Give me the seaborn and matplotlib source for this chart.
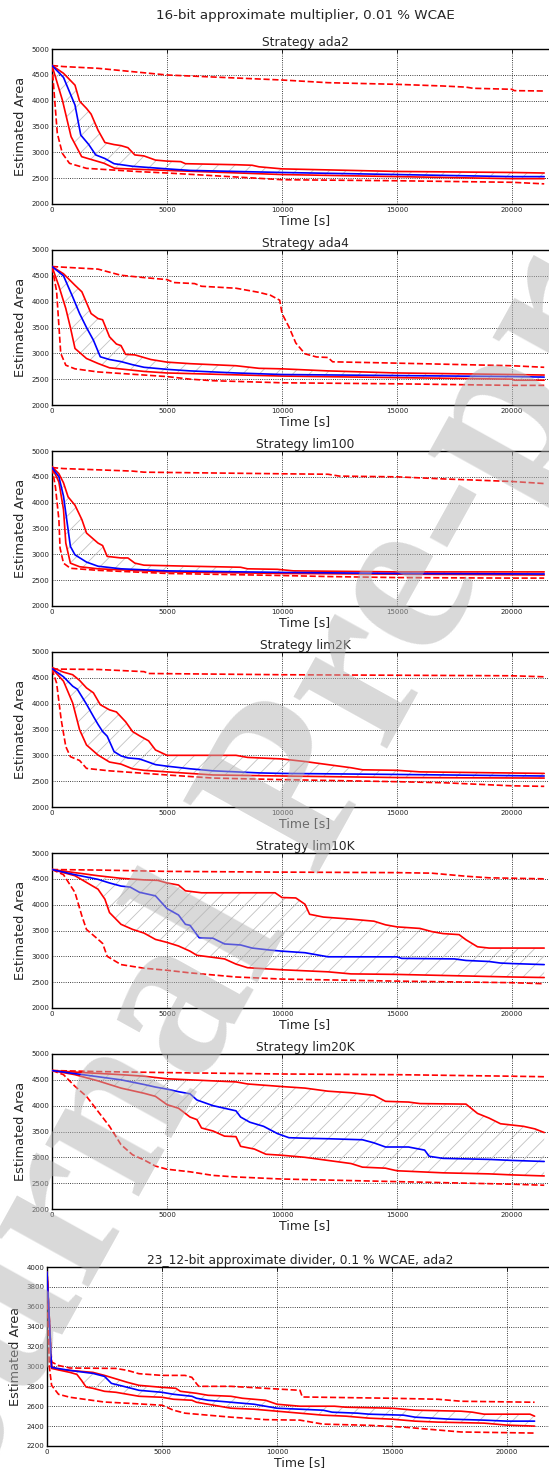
import numpy as np
import pandas as pd
import matplotlib
matplotlib.use("Agg")
import matplotlib.pyplot as plt
import seaborn as sns

# ---------------- data (time [s], estimated area) ----------------
# Strategy ada2
ada2_max = [(0, 4680), (500, 4660), (2000, 4626), (5000, 4497), (10000, 4400), (12000, 4348),
            (15000, 4316), (17000, 4284), (18000, 4262), (18300, 4240), (20000, 4220), (20100, 4194), (21400, 4187)]
ada2_q3 = [(0, 4680), (500, 4530), (1000, 4300), (1200, 3990), (1500, 3850), (1700, 3740), (2000, 3430),
           (2300, 3190), (2700, 3150), (3000, 3130), (3300, 3090), (3600, 2950), (4000, 2930), (4500, 2850),
           (5000, 2830), (5600, 2820), (5800, 2780), (8000, 2760), (8700, 2750), (9000, 2720), (10000, 2680),
           (12000, 2660), (15000, 2630), (20000, 2610), (21400, 2600)]
ada2_med = [(0, 4680), (500, 4450), (1000, 3915), (1250, 3335), (1600, 3150), (1900, 2950), (2300, 2880),
            (2700, 2780), (3500, 2730), (5000, 2680), (6000, 2650), (10000, 2610), (15000, 2570),
            (20000, 2530), (21400, 2530)]
ada2_q1 = [(0, 4680), (450, 4013), (830, 3303), (1290, 2916), (2270, 2787), (2730, 2690), (5000, 2650),
           (10000, 2570), (15000, 2530), (20000, 2490), (21400, 2490)]
ada2_min = [(0, 4680), (230, 3370), (450, 2980), (760, 2787), (1500, 2690), (3800, 2626), (5000, 2600),
            (9000, 2497), (10000, 2470), (15000, 2450), (20000, 2420), (21400, 2390)]

# Strategy ada4
ada4_max = [(0, 4680), (2000, 4630), (3000, 4511), (4000, 4466), (5000, 4427), (5300, 4370), (6200, 4350),
            (6500, 4298), (8000, 4260), (9000, 4180), (9500, 4124), (9900, 4028), (10000, 3770), (10300, 3513),
            (10600, 3200), (11000, 2990), (11500, 2930), (12000, 2920), (12200, 2836), (15000, 2810),
            (20000, 2760), (21400, 2730)]
ada4_q3 = [(0, 4680), (500, 4540), (1000, 4317), (1300, 4190), (1700, 3770), (2000, 3673), (2200, 3650),
           (2500, 3320), (2800, 3180), (3000, 3150), (3200, 2980), (3600, 2970), (4300, 2880), (5000, 2830),
           (6000, 2800), (8000, 2760), (9000, 2710), (10000, 2700), (12000, 2660), (15000, 2620),
           (20000, 2590), (21400, 2580)]
ada4_med = [(0, 4680), (500, 4500), (900, 4092), (1200, 3770), (1500, 3500), (1800, 3255), (2100, 2933),
            (2500, 2880), (3000, 2840), (3500, 2780), (4000, 2730), (5000, 2690), (6000, 2660), (8000, 2620),
            (10000, 2590), (15000, 2570), (20000, 2550), (21400, 2540)]
ada4_q1 = [(0, 4680), (300, 4300), (600, 3867), (800, 3500), (1000, 3094), (1500, 2900), (2000, 2804),
           (2500, 2720), (4000, 2650), (5000, 2620), (10000, 2560), (15000, 2530), (20000, 2500),
           (20100, 2480), (21400, 2480)]
ada4_min = [(0, 4680), (200, 4200), (380, 3000), (600, 2770), (1000, 2700), (2000, 2640), (5000, 2550),
            (6000, 2500), (7000, 2470), (10000, 2430), (15000, 2410), (20000, 2380), (21400, 2380)]

# Strategy lim100
lim100_max = [(0, 4680), (500, 4660), (3500, 4611), (4000, 4590), (10000, 4559), (12000, 4550), (12500, 4514),
              (15000, 4500), (17000, 4460), (20000, 4410), (21400, 4370)]
lim100_q3 = [(0, 4700), (300, 4560), (500, 4384), (700, 4112), (1000, 3950), (1300, 3671), (1500, 3412),
             (2000, 3218), (2200, 3170), (2400, 2960), (3000, 2930), (3300, 2930), (3600, 2830), (4000, 2790),
             (6000, 2770), (8200, 2750), (8500, 2720), (9800, 2710), (10500, 2680), (15000, 2660), (21400, 2660)]
lim100_med = [(0, 4680), (300, 4500), (500, 4125), (700, 3477), (800, 3153), (1000, 2990), (1500, 2850),
              (2000, 2770), (3000, 2720), (5000, 2680), (10000, 2650), (15000, 2630), (21400, 2620)]
lim100_q1 = [(0, 4680), (300, 4400), (500, 3866), (600, 3218), (800, 2829), (1200, 2760), (2000, 2720),
             (5000, 2660), (10000, 2630), (21400, 2600)]
lim100_min = [(0, 4680), (150, 4300), (300, 3670), (350, 3121), (500, 2829), (800, 2730), (2000, 2690),
              (5000, 2630), (10000, 2590), (12000, 2570), (15000, 2550), (20000, 2540), (21400, 2540)]

# Strategy lim2K
lim2k_max = [(0, 4670), (2000, 4662), (4000, 4620), (4200, 4584), (10000, 4560), (15000, 4550),
             (20000, 4540), (21400, 4520)]
lim2k_q3 = [(0, 4700), (500, 4610), (900, 4560), (1200, 4450), (1500, 4305), (1800, 4210), (2100, 3980),
            (2500, 3880), (2800, 3840), (3200, 3650), (3500, 3461), (3800, 3380), (4200, 3280), (4500, 3104),
            (5000, 3000), (8000, 3000), (8500, 2960), (10000, 2930), (11000, 2880), (12000, 2820),
            (13000, 2760), (13500, 2720), (15000, 2710), (16000, 2680), (21400, 2650)]
lim2k_med = [(0, 4680), (500, 4520), (900, 4338), (1100, 4280), (1500, 3990), (1800, 3753), (2000, 3600),
             (2200, 3461), (2400, 3370), (2700, 3071), (3000, 2990), (3300, 2950), (3800, 2930), (4000, 2900),
             (4500, 2820), (5000, 2790), (6000, 2740), (7000, 2700), (9000, 2660), (10000, 2650),
             (15000, 2630), (21400, 2600)]
lim2k_q1 = [(0, 4680), (500, 4435), (900, 4013), (1200, 3494), (1500, 3200), (2000, 3006), (2500, 2870),
            (3000, 2830), (3500, 2740), (4000, 2710), (5000, 2680), (7000, 2620), (10000, 2600),
            (15000, 2570), (21400, 2560)]
lim2k_min = [(0, 4670), (200, 4400), (400, 3688), (600, 3169), (800, 2974), (1200, 2900), (1500, 2747),
             (2500, 2700), (5000, 2620), (7000, 2560), (10000, 2530), (15000, 2490), (17000, 2470),
             (20000, 2410), (21400, 2400)]

# Strategy lim10K
lim10k_max = [(0, 4680), (2000, 4670), (5000, 4644), (10000, 4630), (15000, 4620), (16500, 4610),
              (18000, 4550), (19000, 4520), (21400, 4500)]
lim10k_q3 = [(0, 4680), (1000, 4620), (2000, 4560), (3000, 4510), (4000, 4480), (4600, 4470), (5000, 4420),
             (5500, 4380), (5800, 4268), (6500, 4230), (9700, 4230), (10000, 4138), (10600, 4130),
             (11000, 4008), (11200, 3814), (11800, 3760), (13000, 3720), (14000, 3680), (14500, 3610),
             (15000, 3570), (16000, 3540), (16500, 3480), (17000, 3440), (17700, 3420), (18000, 3320),
             (18500, 3185), (19000, 3160), (21400, 3160)]
lim10k_med = [(0, 4680), (1000, 4580), (2000, 4490), (2500, 4420), (3000, 4360), (3400, 4340), (3800, 4240),
              (4500, 4170), (5000, 3924), (5500, 3800), (5800, 3620), (6000, 3600), (6400, 3360),
              (7000, 3350), (7500, 3240), (8200, 3220), (8700, 3160), (9500, 3120), (10000, 3100),
              (11000, 3070), (12000, 2991), (15000, 2990), (15200, 2960), (17500, 2950), (18000, 2920),
              (19000, 2900), (19500, 2870), (20000, 2860), (21400, 2840)]
lim10k_q1 = [(0, 4680), (1000, 4560), (1500, 4430), (2000, 4300), (2300, 4106), (2500, 3847), (3000, 3620),
             (3500, 3522), (4000, 3450), (4500, 3327), (5000, 3270), (5500, 3200), (6000, 3100),
             (6300, 3020), (7000, 2980), (7500, 2950), (8000, 2850), (8500, 2780), (10000, 2740),
             (12000, 2700), (13000, 2660), (15000, 2650), (17000, 2630), (20000, 2600), (21400, 2590)]
lim10k_min = [(0, 4680), (500, 4580), (1000, 4235), (1300, 3780), (1500, 3520), (2000, 3330), (2200, 3250),
              (2400, 3000), (3000, 2840), (4000, 2770), (5000, 2730), (6000, 2680), (8000, 2600),
              (10000, 2560), (15000, 2520), (20000, 2490), (21400, 2470)]

# Strategy lim20K
lim20k_max = [(0, 4680), (2000, 4660), (5000, 4640), (10000, 4613), (15000, 4600), (20000, 4570),
              (21400, 4560)]
lim20k_q3 = [(0, 4680), (1000, 4650), (3000, 4600), (4000, 4570), (5000, 4520), (6000, 4500), (8000, 4460),
             (8500, 4420), (10000, 4370), (11000, 4340), (12000, 4280), (13000, 4250), (14000, 4200),
             (14500, 4084), (15500, 4070), (16000, 4040), (18000, 4030), (18500, 3850), (19000, 3760),
             (19500, 3650), (20500, 3600), (21000, 3550), (21400, 3480)]
lim20k_med = [(0, 4680), (1000, 4620), (2000, 4560), (3000, 4500), (4000, 4410), (4500, 4360), (5000, 4320),
              (5500, 4270), (6000, 4230), (6300, 4110), (7000, 4000), (7500, 3950), (8000, 3900),
              (8200, 3780), (8600, 3680), (9200, 3600), (9800, 3460), (10300, 3380), (11000, 3370),
              (12000, 3360), (13500, 3340), (14000, 3280), (14500, 3200), (15500, 3200), (16200, 3140),
              (16400, 3020), (17000, 2980), (19000, 2960), (20000, 2940), (21400, 2920)]
lim20k_q1 = [(0, 4680), (1000, 4600), (2000, 4480), (3000, 4340), (4000, 4240), (4500, 4180), (5000, 4020),
             (5500, 3950), (6000, 3780), (6300, 3730), (6500, 3568), (7000, 3510), (7500, 3410),
             (8000, 3400), (8200, 3213), (8800, 3160), (9300, 3060), (10000, 3040), (11000, 3000),
             (12000, 2940), (13000, 2880), (13500, 2810), (14500, 2790), (15000, 2740), (17000, 2700),
             (19000, 2680), (20000, 2660), (21400, 2640)]
lim20k_min = [(0, 4680), (500, 4600), (1000, 4374), (1500, 4180), (2000, 3890), (2500, 3600), (3000, 3245),
              (3500, 3050), (4000, 2950), (4500, 2830), (5000, 2770), (6000, 2720), (7000, 2650),
              (8000, 2620), (10000, 2580), (15000, 2530), (20000, 2480), (21400, 2460)]

# 23_12-bit approximate divider, ada2
div_max = [(0, 3950), (200, 3045), (500, 3010), (1000, 2984), (3000, 2980), (3500, 2960), (4000, 2927),
           (5000, 2910), (6000, 2910), (6300, 2890), (6500, 2827), (6600, 2800), (8000, 2800), (9500, 2780),
           (11000, 2760), (11100, 2693), (15000, 2680), (17000, 2670), (18000, 2650), (21200, 2640)]
div_q3 = [(0, 3950), (200, 3000), (500, 2970), (2000, 2940), (2500, 2910), (3500, 2840), (4000, 2810),
          (5000, 2790), (5600, 2780), (5800, 2750), (6500, 2730), (7000, 2710), (8000, 2700), (8500, 2680),
          (9500, 2660), (10000, 2620), (11000, 2600), (12500, 2600), (13000, 2590), (15000, 2580),
          (16000, 2560), (18000, 2550), (18500, 2540), (19000, 2520), (21000, 2520), (21200, 2500)]
div_med = [(0, 3950), (200, 2990), (1000, 2960), (2000, 2930), (2500, 2900), (2800, 2830), (3500, 2790),
           (4000, 2760), (5000, 2740), (5500, 2720), (6300, 2700), (6500, 2680), (7000, 2660), (8000, 2640),
           (9000, 2620), (10000, 2580), (11000, 2570), (12000, 2560), (12400, 2540), (13500, 2530),
           (14000, 2520), (15500, 2510), (16000, 2490), (17500, 2470), (19000, 2460), (20000, 2450),
           (21200, 2450)]
div_q1 = [(0, 3950), (200, 2980), (1000, 2940), (1300, 2920), (1500, 2860), (1700, 2793), (2000, 2780),
          (2500, 2750), (3000, 2740), (3500, 2720), (4000, 2700), (5000, 2690), (5500, 2670), (6300, 2660),
          (6500, 2640), (7000, 2620), (8000, 2580), (9000, 2570), (10000, 2550), (11000, 2530),
          (12000, 2510), (13000, 2500), (14000, 2480), (15000, 2470), (16000, 2450), (17000, 2440),
          (19000, 2430), (20000, 2410), (21200, 2400)]
div_min = [(0, 3900), (100, 3000), (200, 2810), (500, 2720), (1000, 2690), (2500, 2642), (3500, 2630),
           (5000, 2610), (5500, 2560), (6000, 2530), (7000, 2510), (8000, 2490), (9500, 2465),
           (11000, 2460), (12000, 2420), (14000, 2408), (15500, 2390), (18000, 2341), (21200, 2330)]

suptitle = "16-bit approximate multiplier, 0.01 % WCAE"
titles = ["Strategy ada2", "Strategy ada4", "Strategy lim100", "Strategy lim2K",
          "Strategy lim10K", "Strategy lim20K", "23_12-bit approximate divider, 0.1 % WCAE, ada2"]
series = [
    (ada2_max, ada2_q3, ada2_med, ada2_q1, ada2_min),
    (ada4_max, ada4_q3, ada4_med, ada4_q1, ada4_min),
    (lim100_max, lim100_q3, lim100_med, lim100_q1, lim100_min),
    (lim2k_max, lim2k_q3, lim2k_med, lim2k_q1, lim2k_min),
    (lim10k_max, lim10k_q3, lim10k_med, lim10k_q1, lim10k_min),
    (lim20k_max, lim20k_q3, lim20k_med, lim20k_q1, lim20k_min),
    (div_max, div_q3, div_med, div_q1, div_min),
]
yticks_mult = [2000, 2500, 3000, 3500, 4000, 4500, 5000]
yticks_div = [2200, 2400, 2600, 2800, 3000, 3200, 3400, 3600, 3800, 4000]
xticks = [0, 5000, 10000, 15000, 20000]
watermark = "Journal Pre-proof"

# ---------------- styling ----------------
sns.set_theme(style="white")
plt.rcParams["font.family"] = ["DejaVu Sans"]
plt.rcParams["hatch.linewidth"] = 0.6

W, H = 549, 1472
fig = plt.figure(figsize=(W / 100, H / 100), dpi=100)
fig.patch.set_facecolor("white")

px_per_s = 23.0 / 1000.0
XMAX = 22000


def add_axes_px(left, top, height):
    width = XMAX * px_per_s
    return fig.add_axes([left / W, 1 - (top + height) / H, width / W, height / H])


def to_df(pts):
    return pd.DataFrame(pts, columns=["t", "area"])


RED = "#ff0000"
BLUE = "#0000ff"
LW = 1.2

for i, (title, ser) in enumerate(zip(titles, series)):
    if i < 6:
        ax = add_axes_px(52, 49 + 201 * i, 155)
        ylim = (2000, 5000)
        yt = yticks_mult
    else:
        ax = add_axes_px(47, 1267, 179)
        ylim = (2200, 4000)
        yt = yticks_div
    smax, sq3, smed, sq1, smin = [to_df(s) for s in ser]

    # hatched band between the quartile curves
    poly_t = np.concatenate([sq1["t"].to_numpy(), sq3["t"].to_numpy()[::-1]])
    poly_v = np.concatenate([sq1["area"].to_numpy(), sq3["area"].to_numpy()[::-1]])
    ax.fill(poly_t, poly_v, facecolor="none", edgecolor="0.76", hatch="//", linewidth=0, zorder=1)

    for df, col, ls in [(smax, RED, "--"), (smin, RED, "--"), (sq3, RED, "-"),
                        (sq1, RED, "-"), (smed, BLUE, "-")]:
        sns.lineplot(data=df, x="t", y="area", ax=ax, color=col, linestyle=ls, lw=LW,
                     estimator=None, sort=False, legend=False, zorder=3)

    ax.set_xlim(0, XMAX)
    ax.set_ylim(*ylim)
    ax.set_xticks(xticks)
    ax.set_yticks(yt)
    ax.tick_params(direction="in", length=3, width=0.6, labelsize=5, pad=2,
                   top=True, right=True, colors="black", labelcolor="#222222")
    ax.grid(True, linestyle=":", color="black", linewidth=0.6)
    for sp in ax.spines.values():
        sp.set_color("black")
        sp.set_linewidth(1.0)
    ax.set_title(title, fontsize=8.8, pad=2)
    ax.set_xlabel("Time [s]", fontsize=9, labelpad=1)
    ax.set_ylabel("Estimated Area", fontsize=9.3, labelpad=3)

fig.text(305 / W, 1 - 15 / H, suptitle, ha="center", va="center", fontsize=9.7)

# watermark
fig.text(297 / W, 1 - 795 / H, watermark, rotation=61, rotation_mode="anchor",
         ha="center", va="center", fontsize=168, family=["Liberation Serif", "DejaVu Serif"],
         weight="bold", color="0.7", alpha=0.5, zorder=10)

fig.savefig("out.png", dpi=100)
